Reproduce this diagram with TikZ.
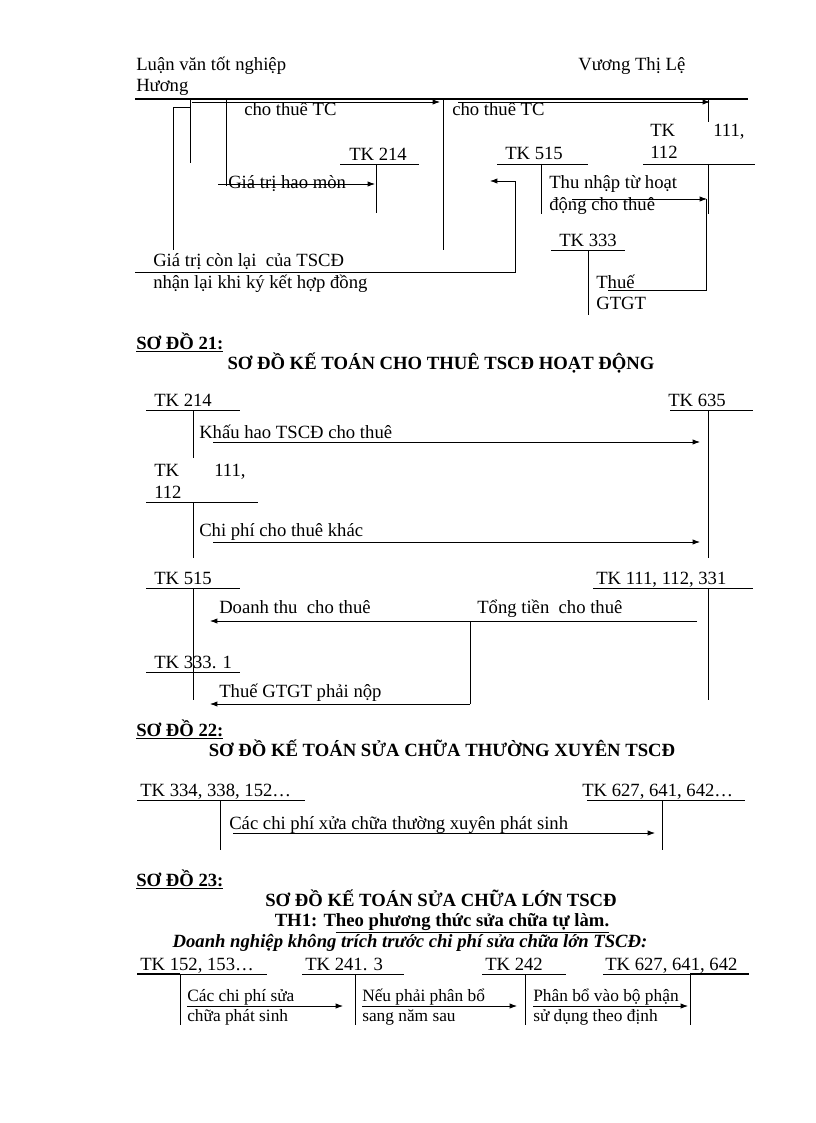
\documentclass[tikz,border=0pt]{standalone}
\usepackage{fontspec}
\setmainfont{Liberation Serif}
\usetikzlibrary{arrows.meta}
\begin{document}
\begin{tikzpicture}[x=0.75pt,y=-0.75pt,
 txt/.style={anchor=base west, inner sep=0pt, font=\fontsize{14}{16}\selectfont},
 smalltxt/.style={anchor=base west, inner sep=0pt, font=\fontsize{13}{15}\selectfont},
 ttl/.style={anchor=base, inner sep=0pt, font=\fontsize{14}{16}\selectfont\bfseries},
 hd/.style={anchor=base west, inner sep=0pt, font=\fontsize{14}{16}\selectfont\bfseries},
 ln/.style={line width=0.6pt},
 arr/.style={line width=0.6pt, -{Latex[length=5.5pt,width=4pt]}},
]
\useasboundingbox (0,0) rectangle (816,1123);

% ---------- header ----------
\node[txt] (h1) at (136,71) {Luận văn tốt nghiệp};
\node[txt] (h2) at (136,92) {Hương};
\node[txt] (h3) at (578,71) {Vương Thị Lệ};
\draw[line width=1.5pt] (135,99) -- (748,99);

% ---------- top fragment ----------
\coordinate (a1s) at (192,102); \coordinate (a1e) at (440,102);
\draw[arr] (a1s) -- (a1e);
\node[txt] (t1) at (244,116) {cho thuê TC};
\draw[ln] (190,100) -- (190,163);
\draw[ln] (190,107) -- (173,107) -- (173,250);
\draw[ln] (226,100) -- (226,186);
\node[txt] (t2) at (228,189) {Giá trị hao mòn};
\coordinate (a2s) at (218,184); \coordinate (a2e) at (375,184);
\draw[arr] (a2s) -- (a2e);
\node[txt] (k214a) at (349,161) {TK 214};
\draw[ln] (340,164) -- (419,164);
\draw[ln] (376,164) -- (376,213);
\draw[ln] (443,100) -- (443,250);
\coordinate (a3s) at (458,102); \coordinate (a3e) at (710,102);
\draw[arr] (a3s) -- (a3e);
\node[txt] (t3) at (452,116) {cho thuê TC};
\draw[ln] (708,100) -- (708,122);
\node[txt] (k111a) at (650,137) {TK};
\node[txt] (k111b) at (713,137) {111,};
\node[txt] (k111c) at (650,159) {112};
\draw[ln] (643,164) -- (755,164);
\draw[ln] (708,164) -- (708,214);
\node[txt] (k515a) at (505,160) {TK 515};
\draw[ln] (497,164) -- (588,164);
\draw[ln] (541,164) -- (541,214);
\coordinate (a4s) at (135,272); \coordinate (a4e) at (490,181);
\draw[arr] (a4s) -- (515,272) -- (515,181) -- (a4e);
\node[txt] (t4) at (549,189) {Thu nhập từ hoạt};
\node[txt] (t5) at (549,210) {động cho thuê};
\coordinate (a5s) at (572,199); \coordinate (a5e) at (707,199);
\draw[arr] (a5s) -- (a5e);
\draw[ln] (608,290) -- (706,290) -- (706,199);
\node[txt] (k333a) at (559,246) {TK 333};
\draw[ln] (551,250) -- (625,250);
\draw[ln] (588,250) -- (588,315);
\node[txt] (t6) at (596,288) {Thuế};
\node[txt] (t7) at (596,309) {GTGT};
\node[txt] (t8) at (153,267) {Giá trị còn lại\ \ của TSCĐ};
\node[txt] (t9) at (153,288) {nhận lại khi ký kết hợp đồng};

% ---------- So do 21 ----------
\node[hd] (s21) at (136,349) {\underline{SƠ ĐỒ 21:}};
\node[ttl] (s21t) at (441,369) {SƠ ĐỒ KẾ TOÁN CHO THUÊ TSCĐ HOẠT ĐỘNG};
\node[txt] (b214) at (154,406) {TK 214};
\draw[ln] (146,410) -- (240,410);
\draw[ln] (193,410) -- (193,458);
\node[txt] (b635) at (668,406) {TK 635};
\draw[ln] (670,410) -- (753,410);
\draw[ln] (708,410) -- (708,558);
\node[txt] (b1) at (199,438) {Khấu hao TSCĐ cho thuê};
\coordinate (b1s) at (213,442); \coordinate (b1e) at (700,442);
\draw[arr] (b1s) -- (b1e);
\node[txt] (b111a) at (154,476) {TK};
\node[txt] (b111b) at (214,476) {111,};
\node[txt] (b111c) at (154,498) {112};
\draw[ln] (146,502) -- (258,502);
\draw[ln] (193,502) -- (193,558);
\node[txt] (b2) at (199,536) {Chi phí cho thuê khác};
\coordinate (b2s) at (213,542); \coordinate (b2e) at (700,542);
\draw[arr] (b2s) -- (b2e);
\node[txt] (b515) at (154,584) {TK 515};
\draw[ln] (146,588) -- (240,588);
\draw[ln] (193,588) -- (193,700);
\node[txt] (b111d) at (596,584) {TK 111, 112, 331};
\draw[ln] (593,588) -- (753,588);
\draw[ln] (708,588) -- (708,700);
\node[txt] (b3) at (219,613) {Doanh thu\ \ cho thuê};
\node[txt] (b4) at (477,613) {Tổng tiền\ \ cho thuê};
\coordinate (b3s) at (697,621); \coordinate (b3e) at (210,621);
\draw[arr] (b3s) -- (b3e);
\coordinate (b5s) at (470,704); \coordinate (b5e) at (210,704);
\draw[ln] (470,621) -- (b5s);
\node[txt] (b333) at (154,668) {TK 333. 1};
\draw[ln] (146,672) -- (240,672);
\node[txt] (b5) at (219,697) {Thuế GTGT phải nộp};
\draw[arr] (b5s) -- (b5e);

% ---------- So do 22 ----------
\node[hd] (s22) at (136,736) {\underline{SƠ ĐỒ 22:}};
\node[ttl] (s22t) at (442,756) {SƠ ĐỒ KẾ TOÁN SỬA CHỮA THƯỜNG XUYÊN TSCĐ};
\node[txt] (c334) at (140,796) {TK 334, 338, 152…};
\draw[ln] (137,800) -- (305,800);
\draw[ln] (220,800) -- (220,850);
\node[txt] (c627) at (582,796) {TK 627, 641, 642…};
\draw[ln] (587,800) -- (745,800);
\draw[ln] (662,800) -- (662,850);
\node[txt] (c1) at (229,829) {Các chi phí xửa chữa thường xuyên phát sinh};
\coordinate (c1s) at (233,833); \coordinate (c1e) at (655,833);
\draw[arr] (c1s) -- (c1e);

% ---------- So do 23 ----------
\node[hd] (s23) at (136,886) {\underline{SƠ ĐỒ 23:}};
\node[ttl] (s23t) at (441,906) {SƠ ĐỒ KẾ TOÁN SỬA CHỮA LỚN TSCĐ};
\node[ttl] (s23u) at (442,926) {TH1: T\underline{heo phương thức sửa chữa tự làm.}};
\node[ttl, font=\fontsize{14}{16}\selectfont\bfseries\itshape] (s23v) at (410,947) {Doanh nghiệp không trích trước chi phí sửa chữa lớn TSCĐ:};
\node[txt] (d152) at (140,970) {TK 152, 153…};
\draw[ln] (137,974) -- (267,974);
\draw[line width=1.5pt] (137,974) -- (180,974);
\draw[ln] (180,974) -- (180,1025);
\node[txt] (d241) at (305,970) {TK 241. 3};
\draw[ln] (302,974) -- (404,974);
\draw[ln] (355,974) -- (355,1025);
\node[txt] (d242) at (485,970) {TK 242};
\draw[ln] (482,974) -- (566,974);
\draw[ln] (525,974) -- (525,1025);
\node[txt] (d627) at (605,970) {TK 627, 641, 642};
\draw[ln] (603,974) -- (749,974);
\draw[line width=1.5pt] (690,974) -- (749,974);
\draw[ln] (690,974) -- (690,1025);
\node[smalltxt] (d1) at (187,1001) {Các chi phí sửa};
\node[smalltxt] (d2) at (187,1021) {chữa phát sinh};
\coordinate (d1s) at (187,1006); \coordinate (d1e) at (343,1006);
\draw[arr] (d1s) -- (d1e);
\node[smalltxt] (d3) at (362,1001) {Nếu phải phân bổ};
\node[smalltxt] (d4) at (362,1021) {sang năm sau};
\coordinate (d3s) at (362,1006); \coordinate (d3e) at (517,1006);
\draw[arr] (d3s) -- (d3e);
\node[smalltxt] (d5) at (533,1001) {Phân bổ vào bộ phận};
\node[smalltxt] (d6) at (533,1021) {sử dụng theo định};
\coordinate (d5s) at (533,1006); \coordinate (d5e) at (688,1006);
\draw[arr] (d5s) -- (d5e);
\end{tikzpicture}
\end{document}
